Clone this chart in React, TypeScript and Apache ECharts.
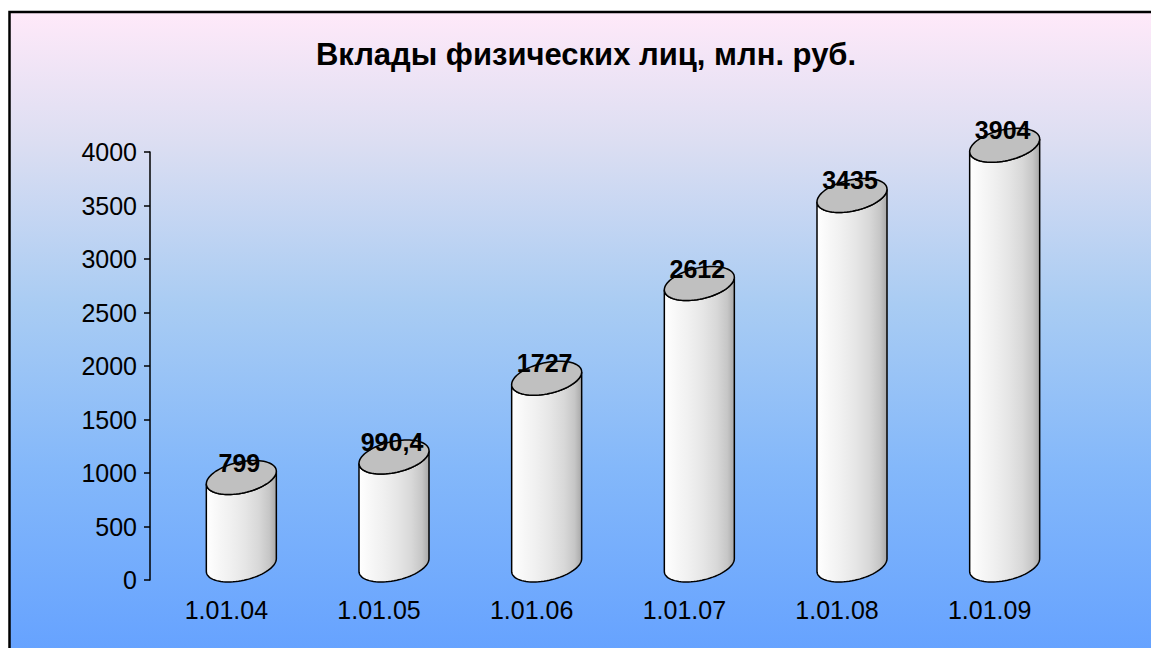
import React, { useEffect, useRef } from "react";
import * as echarts from "echarts";

const titleText = "Вклады физических лиц, млн. руб.";
const categories = ["1.01.04", "1.01.05", "1.01.06", "1.01.07", "1.01.08", "1.01.09"];
const values = [799, 990.4, 1727, 2612, 3435, 3904];
const yTicks = { min: 0, max: 4000, interval: 500 };

const FONT = "'Liberation Sans', Arial, sans-serif";

export default function App() {
  const ref = useRef<HTMLDivElement>(null);
  useEffect(() => {
    if (!ref.current) return;
    const chart = echarts.init(ref.current, undefined, { renderer: "svg" });
    const R = 32.5, DX = 13, DY = 17;
    const th0 = Math.atan(DX / R);
    const pt = (cx: number, cy: number, t: number) => [
      cx + R * Math.cos(t) + DX * Math.sin(t),
      cy - DY * Math.sin(t),
    ];
    const option: any = {
      animation: false,
      graphic: [
        {
          type: "rect",
          z: -10,
          shape: { x: 9, y: 12, width: 1160, height: 650 },
          style: {
            fill: new echarts.graphic.LinearGradient(0, 0, 0, 1, [
              { offset: 0, color: "#FFE9F9" },
              { offset: 0.2, color: "#DCDEF2" },
              { offset: 0.45, color: "#A9CCF3" },
              { offset: 0.7, color: "#84B8FA" },
              { offset: 1, color: "#64A1FF" },
            ]),
          },
        },
        {
          type: "polyline",
          z: -9,
          shape: { points: [[9.5, 660], [9.5, 12], [1160, 12]] },
          style: { stroke: "#000", lineWidth: 2.5, fill: "none" },
        },
        {
          type: "text",
          x: 586,
          y: 54,
          style: {
            text: titleText,
            font: `bold 31px ${FONT}`,
            fill: "#000",
            align: "center",
            verticalAlign: "middle",
          },
        },
      ],
      grid: { left: 150, top: 152, width: 916, height: 428, containLabel: false },
      xAxis: {
        type: "category",
        data: categories,
        axisLine: { show: false },
        axisTick: { show: false },
        axisLabel: { fontSize: 25, fontFamily: FONT, color: "#000", margin: 17 },
      },
      yAxis: {
        type: "value",
        min: yTicks.min,
        max: yTicks.max,
        interval: yTicks.interval,
        axisLine: { show: true, lineStyle: { color: "#000", width: 1.5 } },
        axisTick: { show: true, length: 6, lineStyle: { color: "#000", width: 1.5 } },
        axisLabel: {
          fontSize: 25,
          fontFamily: FONT,
          color: "#000",
          margin: 13,
          formatter: (v: number) => String(v),
        },
        splitLine: { show: false },
      },
      series: [
        {
          type: "custom",
          data: values.map((v, i) => [i, v]),
          renderItem: (params: any, api: any) => {
            const i = api.value(0);
            const v = api.value(1);
            const top = api.coord([i, v]);
            const base = api.coord([i, 0]);
            const cx = top[0] + 15;
            const ty = top[1] - 17;
            const by = base[1] - 15;
            const body: number[][] = [];
            const N = 40;
            for (let k = 0; k <= N; k++) {
              const t = th0 + Math.PI + (Math.PI * k) / N;
              body.push(pt(cx, by, t));
            }
            for (let k = 0; k <= N; k++) {
              const t = th0 + 2 * Math.PI - (Math.PI * k) / N;
              body.push(pt(cx, ty, t));
            }
            const topPts: number[][] = [];
            for (let k = 0; k < 80; k++) {
              topPts.push(pt(cx, ty, (2 * Math.PI * k) / 80));
            }
            const label = String(v).replace(".", ",");
            return {
              type: "group",
              children: [
                {
                  type: "polygon",
                  shape: { points: body },
                  style: {
                    fill: new echarts.graphic.LinearGradient(0, 0, 1, 0, [
                      { offset: 0, color: "#FFFFFF" },
                      { offset: 0.2, color: "#F6F6F6" },
                      { offset: 0.35, color: "#F0F0F0" },
                      { offset: 0.55, color: "#E6E6E6" },
                      { offset: 0.75, color: "#D8D8D8" },
                      { offset: 0.9, color: "#C6C6C6" },
                      { offset: 1, color: "#A8A8A8" },
                    ]),
                    stroke: "#000",
                    lineWidth: 1.5,
                  },
                },
                {
                  type: "polygon",
                  shape: { points: topPts },
                  style: { fill: "#C0C0C0", stroke: "#000", lineWidth: 1.5 },
                },
                {
                  type: "text",
                  x: cx - 2,
                  y: ty - DY + 2,
                  style: {
                    text: label,
                    font: `bold 25px ${FONT}`,
                    fill: "#000",
                    align: "center",
                    verticalAlign: "middle",
                  },
                },
              ],
            };
          },
        },
      ],
    };
    chart.setOption(option);
    return () => chart.dispose();
  }, []);
  return (
    <div
      ref={ref}
      style={{ position: "absolute", left: 0, top: 0, width: 1151, height: 648 }}
    />
  );
}
